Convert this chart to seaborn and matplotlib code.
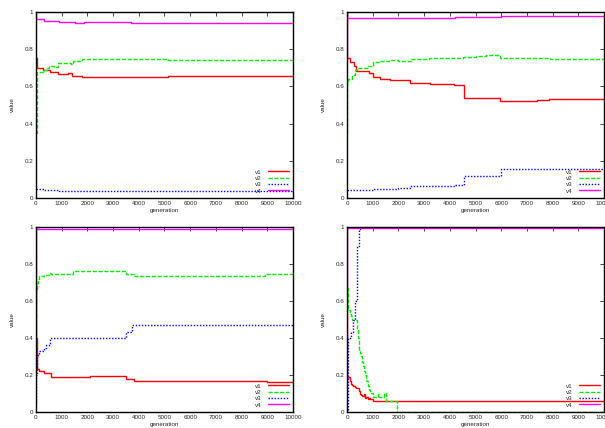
import matplotlib
matplotlib.use('Agg')
import matplotlib.pyplot as plt
import seaborn as sns
import pandas as pd

SERIES = ['v1', 'v2', 'v3', 'v4']
COLORS = {'v1': '#ff0000', 'v2': '#00ee00', 'v3': '#0000ff', 'v4': '#ff00ff'}
DASHES = {'v1': '', 'v2': (3, 1.2), 'v3': (1, 1.2), 'v4': ''}
X_TICKS = list(range(0, 10001, 1000))
Y_TICKS = [0, 0.2, 0.4, 0.6, 0.8, 1]
Y_TICK_LABELS = ['0', '0.2', '0.4', '0.6', '0.8', '1']

# top-left run
p1_v1_gen = [0, 20, 280, 540, 700, 870, 1250, 1400, 1800, 3250, 5140, 10000]
p1_v1_val = [0.75, 0.697, 0.69, 0.68, 0.675, 0.665, 0.67, 0.655, 0.648, 0.65, 0.658, 0.658]
p1_v2_gen = [0, 20, 300, 420, 520, 700, 870, 1350, 1450, 1800, 5140, 10000]
p1_v2_val = [0.35, 0.68, 0.69, 0.70, 0.712, 0.706, 0.725, 0.72, 0.735, 0.748, 0.742, 0.742]
p1_v3_gen = [0, 300, 900, 10000]
p1_v3_val = [0.046, 0.042, 0.037, 0.037]
p1_v4_gen = [0, 10, 300, 900, 1500, 1850, 3700, 8000, 10000]
p1_v4_val = [1.0, 0.96, 0.952, 0.946, 0.943, 0.945, 0.94, 0.943, 0.943]

# top-right run
p2_v1_gen = [0, 10, 100, 260, 330, 360, 840, 1010, 1300, 1690, 2460, 3240, 4150,
             4540, 5970, 7390, 7850, 9470, 10000]
p2_v1_val = [1.0, 0.751, 0.73, 0.71, 0.695, 0.683, 0.672, 0.651, 0.64, 0.632, 0.618,
             0.615, 0.608, 0.537, 0.522, 0.527, 0.534, 0.53, 0.53]
p2_v2_gen = [0, 10, 50, 200, 300, 400, 800, 1000, 1300, 1650, 2000, 2480, 3200,
             4500, 5000, 5400, 5950, 7400, 7900, 9500, 10000]
p2_v2_val = [0.35, 0.62, 0.64, 0.66, 0.69, 0.697, 0.71, 0.729, 0.735, 0.74, 0.737,
             0.747, 0.75, 0.757, 0.762, 0.767, 0.752, 0.755, 0.745, 0.748, 0.748]
p2_v3_gen = [0, 1000, 1600, 2000, 2450, 4200, 4550, 6000, 10000]
p2_v3_val = [0.043, 0.046, 0.05, 0.055, 0.066, 0.069, 0.12, 0.155, 0.155]
p2_v4_gen = [0, 10, 2500, 4200, 6000, 10000]
p2_v4_val = [1.0, 0.966, 0.97, 0.975, 0.978, 0.978]

# bottom-left run
p3_v1_gen = [0, 10, 20, 50, 100, 300, 570, 1500, 2100, 3500, 3800, 5000, 9000, 10000]
p3_v1_val = [1.0, 0.4, 0.24, 0.23, 0.22, 0.209, 0.191, 0.188, 0.192, 0.18, 0.17,
             0.166, 0.162, 0.162]
p3_v2_gen = [0, 10, 30, 60, 100, 300, 500, 600, 1450, 3500, 3800, 5000, 8900, 10000]
p3_v2_val = [0.35, 0.66, 0.70, 0.72, 0.736, 0.74, 0.751, 0.744, 0.762, 0.745, 0.736,
             0.737, 0.745, 0.745]
p3_v3_gen = [0, 10, 20, 50, 100, 300, 400, 560, 3500, 3750, 10000]
p3_v3_val = [0.05, 0.2, 0.29, 0.31, 0.332, 0.345, 0.36, 0.401, 0.431, 0.468, 0.468]
p3_v4_gen = [0, 10, 10000]
p3_v4_val = [1.0, 0.987, 0.988]

# bottom-right run
p4_v1_gen = [0, 10, 100, 150, 200, 250, 300, 350, 450, 500, 550, 600, 650, 700, 750,
             800, 850, 900, 950, 1000, 10000]
p4_v1_val = [1.0, 0.188, 0.17, 0.152, 0.145, 0.14, 0.135, 0.13, 0.115, 0.097, 0.09,
             0.085, 0.095, 0.074, 0.08, 0.07, 0.075, 0.068, 0.07, 0.061, 0.061]
p4_v2_gen = [0, 10, 50, 100, 150, 200, 400, 430, 460, 480, 500, 550, 580, 620, 660,
             700, 750, 800, 850, 900, 1000, 1200, 1250, 1440, 1500, 1950, 10000]
p4_v2_val = [0.67, 0.67, 0.55, 0.53, 0.52, 0.498, 0.45, 0.40, 0.35, 0.33, 0.32, 0.30,
             0.27, 0.25, 0.22, 0.20, 0.17, 0.14, 0.12, 0.10, 0.083, 0.095, 0.08, 0.1,
             0.062, 0.0, 0.0]
p4_v3_gen = [0, 20, 50, 150, 250, 300, 380, 400, 450, 480, 500, 10000]
p4_v3_val = [0.0, 0.33, 0.40, 0.43, 0.5, 0.6, 0.75, 0.9, 0.95, 0.99, 1.0, 1.0]
p4_v4_gen = [0, 10000]
p4_v4_val = [0.993, 0.995]

PANELS = [
    [(p1_v1_gen, p1_v1_val), (p1_v2_gen, p1_v2_val), (p1_v3_gen, p1_v3_val), (p1_v4_gen, p1_v4_val)],
    [(p2_v1_gen, p2_v1_val), (p2_v2_gen, p2_v2_val), (p2_v3_gen, p2_v3_val), (p2_v4_gen, p2_v4_val)],
    [(p3_v1_gen, p3_v1_val), (p3_v2_gen, p3_v2_val), (p3_v3_gen, p3_v3_val), (p3_v4_gen, p3_v4_val)],
    [(p4_v1_gen, p4_v1_val), (p4_v2_gen, p4_v2_val), (p4_v3_gen, p4_v3_val), (p4_v4_gen, p4_v4_val)],
]

# axes rectangles (left, bottom, width, height) in figure fraction
RECTS = [
    (0.0595, 0.5374, 0.4248, 0.4346),
    (0.5736, 0.5374, 0.4248, 0.4346),
    (0.0595, 0.0374, 0.4248, 0.4322),
    (0.5736, 0.0374, 0.4248, 0.4322),
]


def panel_frame(panel):
    rows = []
    for name, (gens, vals) in zip(SERIES, panel):
        for g, v in zip(gens, vals):
            rows.append([g, v, name])
    return pd.DataFrame(rows, columns=['generation', 'value', 'series'])


def draw_panel(ax, panel):
    df = panel_frame(panel)
    sns.lineplot(data=df, x='generation', y='value', hue='series', style='series',
                 palette=COLORS, dashes=DASHES, estimator=None, sort=False,
                 drawstyle='steps-post', linewidth=1.0, legend=False, ax=ax)
    ax.set_xlim(0, 10000)
    ax.set_ylim(0, 1)
    ax.set_xticks(X_TICKS)
    ax.set_yticks(Y_TICKS)
    ax.set_yticklabels(Y_TICK_LABELS)
    ax.tick_params(direction='in', length=3, width=0.6, labelsize=4.5, pad=2,
                   top=True, right=True)
    ax.set_xlabel('generation', fontsize=4.5, labelpad=1.5)
    ax.set_ylabel('value', fontsize=4.5, labelpad=7)
    for sp in ax.spines.values():
        sp.set_color('black')
        sp.set_linewidth(1.0)
    ax.legend(ax.get_lines(), SERIES, loc='lower right', frameon=False,
              markerfirst=False, fontsize=4.5, handlelength=3.3, labelspacing=0.15,
              borderaxespad=0.3, handletextpad=1.0)


def main():
    sns.set_style('white')
    plt.rcParams['font.family'] = ['Liberation Sans', 'DejaVu Sans']
    fig = plt.figure(figsize=(6.05, 4.28), dpi=100)
    for rect, panel in zip(RECTS, PANELS):
        ax = fig.add_axes(rect)
        draw_panel(ax, panel)
    fig.savefig('out.png', dpi=100)


if __name__ == '__main__':
    main()
